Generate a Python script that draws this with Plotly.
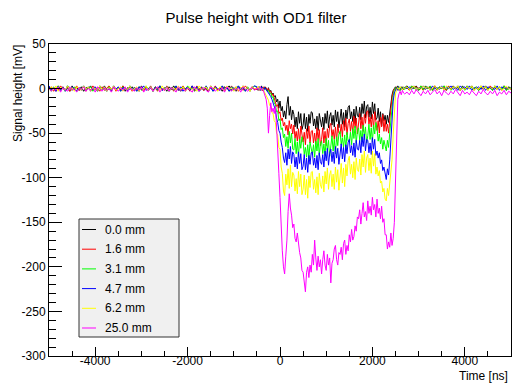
import numpy as np
import plotly.graph_objects as go

# Sampling times: 50 ns on the baselines, 25 ns across the pulse
time_ns = np.concatenate([
    np.arange(-5000, -525, 50),
    np.arange(-500, 2701, 25),
    np.arange(2750, 5001, 50),
])

labels = ["0.0 mm", "1.6 mm", "3.1 mm", "4.7 mm", "6.2 mm", "25.0 mm"]
colors = ["#000000", "#ff0000", "#00ff00", "#0000ff", "#ffff00", "#ff00ff"]

# Signal heights in mV: pre-pulse baseline | pulse | post-pulse baseline
mv_0p0 = [
    2, -2, 1, -3, 3, -1, 2, -2, 0, -3, 3, -1, 1, -2, 2, -3, 1, 0, 3, -2,
    1, -3, 2, -1, 3, -2, 0, -3, 2, -1, 1, -2, 3, -3, 1, -1, 2, -2, 0, -3,
    3, -1, 2, -2, 1, -3, 2, 0, 3, -2, 1, -3, 2, -1, 3, -2, 0, -3, 1, -1,
    2, -2, 3, -3, 1, -1, 2, -2, 0, -3, 3, -1, 2, -2, 1, -3, 2, 0, 3, -2,
    1, -3, 2, -1, 3, -2, 0, -3, 2, -1,
    1, -2, 2, -1, 3, -2, 0, 2,
    0, -3, 1, -4, -2, -7, -5, -9,
    -8, -15, -12, -22, -14, -25, -20, -32,
    -25, -34, -18, -9, -30, -20, -35, -24,
    -29, -43, -32, -45, -26, -39, -28, -46,
    -41, -28, -45, -32, -48, -29, -39, -26,
    -27, -42, -34, -45, -31, -47, -28, -38,
    -43, -32, -46, -28, -39, -25, -44, -31,
    -27, -41, -30, -43, -24, -37, -26, -44,
    -36, -23, -40, -27, -43, -24, -34, -21,
    -19, -34, -26, -37, -23, -39, -20, -30,
    -32, -21, -35, -17, -28, -14, -33, -20,
    -18, -32, -21, -34, -15, -28, -17, -35,
    -33, -22, -37, -26, -42, -28, -36, -30,
    -40, -30, -38, -26, -12, -7, -2, 1,
    2, -1, 3, 0, -2, 2, 1, -1,
    1,
    3, -1, 2, 0, 3, -2, 1, -1, 3, 0, 2, -2, 3, -1, 1, 0, 3, -2, 2, -1,
    3, 0, 1, -2, 3, -1, 2, 0, 3, -1, 2, -2, 1, 0, 3, -1, 2, -2, 3, 0,
    1, -1, 3, -2, 2, 0,
]
mv_1p6 = [
    -1, 2, -3, 1, -2, 3, 0, -2, 2, -3, 1, -1, 3, -2, 0, 2, -3, 1, -2, 3,
    -1, 1, -3, 2, -2, 0, 3, -1, 2, -3, 1, -2, 3, 0, -1, 2, -3, 1, -2, 2,
    0, -3, 2, -1, 3, -2, 1, -3, 2, 0, -2, 3, -1, 1, -3, 2, -2, 0, 3, -1,
    1, -3, 2, -2, 3, -1, 0, -2, 2, -3, 1, -1, 3, -2, 0, 2, -3, 1, -2, 3,
    -1, 2, -3, 1, -2, 3, 0, -2, 2, -1,
    -1, 2, -2, 1, 0, -2, 2, -1,
    1, -2, 0, -4, -3, -8, -6, -12,
    -14, -20, -18, -28, -26, -36, -33, -42,
    -38, -47, -41, -52, -36, -45, -40, -51,
    -41, -56, -48, -59, -45, -61, -42, -52,
    -60, -49, -63, -45, -56, -42, -61, -48,
    -47, -61, -50, -63, -44, -57, -46, -64,
    -57, -44, -61, -48, -64, -45, -55, -42,
    -39, -54, -46, -57, -43, -59, -40, -50,
    -51, -40, -54, -36, -47, -33, -52, -39,
    -34, -48, -37, -50, -31, -44, -33, -51,
    -41, -28, -45, -32, -48, -29, -39, -26,
    -25, -40, -32, -43, -29, -45, -26, -36,
    -47, -36, -50, -32, -43, -29, -48, -35,
    -48, -40, -50, -36, -20, -10, -4, 0,
    -1, 2, 0, -2, 1, -1, 2, 0,
    1,
    1, -2, 3, 0, 2, -1, 3, -2, 1, 0, 2, -1, 3, -2, 2, 0, 1, -2, 3, -1,
    2, 0, 3, -2, 1, -1, 3, 0, 2, -2, 1, 0, 3, -1, 2, -2, 3, 0, 1, -1,
    2, -2, 3, 0, 1, -1,
]
mv_3p1 = [
    0, -3, 2, -1, 3, -2, 1, -3, 3, 0, -2, 2, -3, 1, -1, 3, -2, 0, 2, -3,
    1, -2, 3, -1, 0, -3, 2, -2, 3, -1, 1, -3, 2, 0, -2, 3, -1, 1, -3, 2,
    -2, 0, 3, -1, 2, -3, 1, -2, 3, 0, -1, 2, -3, 1, -2, 3, -1, 0, 2, -3,
    3, -1, 1, -2, 2, -3, 0, -1, 3, -2, 2, -3, 1, 0, -2, 3, -1, 1, -3, 2,
    0, -2, 3, -1, 1, -3, 2, -2, 0, 3,
    1, -1, 2, -2, 0, 1, -2, 1,
    -1, -3, -2, -6, -5, -10, -9, -16,
    -18, -26, -25, -36, -34, -46, -44, -55,
    -51, -65, -54, -67, -48, -61, -50, -68,
    -69, -56, -73, -60, -76, -57, -67, -54,
    -59, -74, -66, -77, -63, -79, -60, -70,
    -74, -63, -77, -59, -70, -56, -75, -62,
    -59, -73, -62, -75, -56, -69, -58, -76,
    -66, -53, -70, -57, -73, -54, -64, -51,
    -48, -63, -55, -66, -52, -68, -49, -59,
    -60, -49, -63, -45, -56, -42, -61, -48,
    -44, -58, -47, -60, -41, -54, -43, -61,
    -53, -40, -57, -44, -60, -41, -51, -38,
    -44, -59, -51, -62, -55, -68, -58, -66,
    -70, -58, -66, -50, -34, -18, -8, -2,
    1, -1, 2, 0, -2, 1, 0, 2,
    -1,
    2, -1, 3, 0, 1, -2, 3, -1, 2, 0, 3, -2, 1, -1, 2, 0, 3, -1, 2, -2,
    1, 0, 3, -1, 2, -2, 3, 0, 1, -1, 2, -2, 3, 0, 2, -1, 1, -2, 3, 0,
    2, -1, 3, -2, 1, 0,
]
mv_4p7 = [
    3, -1, 0, -3, 2, -2, 1, -3, 3, -1, 2, 0, -3, 1, -2, 3, -1, 2, -3, 0,
    2, -2, 3, -1, 1, -3, 0, -2, 3, -1, 2, -3, 1, 0, -2, 3, -1, 1, -3, 2,
    -1, 3, -2, 0, 2, -3, 1, -1, 3, -2, 0, 2, -3, 1, -1, 3, -2, 2, -3, 0,
    1, -2, 3, -1, 2, -3, 0, -1, 3, -2, 1, -3, 2, 0, -2, 3, -1, 1, -3, 2,
    -2, 0, 3, -1, 2, -3, 1, -2, 0, 3,
    2, -1, 1, -2, 2, 0, -1, 1,
    -1, -2, -4, -6, -9, -12, -16, -20,
    -24, -33, -38, -47, -50, -60, -66, -78,
    -83, -72, -86, -68, -79, -65, -84, -71,
    -74, -88, -77, -90, -71, -84, -73, -91,
    -87, -74, -91, -78, -94, -75, -85, -72,
    -71, -86, -78, -89, -75, -91, -72, -82,
    -85, -74, -88, -70, -81, -67, -86, -73,
    -68, -82, -71, -84, -65, -78, -67, -85,
    -75, -62, -79, -66, -82, -63, -73, -60,
    -57, -72, -64, -75, -61, -77, -58, -68,
    -69, -58, -72, -54, -65, -51, -70, -57,
    -58, -72, -61, -74, -55, -68, -57, -75,
    -70, -78, -72, -84, -80, -92, -88, -98,
    -102, -90, -97, -80, -58, -32, -14, -5,
    -1, 1, -2, 2, 0, -1, 1, 0,
    1,
    0, 2, -1, 3, -2, 1, 0, 3, -1, 2, -2, 3, 0, 1, -1, 3, -2, 2, 0, 3,
    -1, 1, -2, 3, 0, 2, -1, 3, -2, 1, 0, 2, -1, 3, -2, 2, 0, 1, -1, 3,
    -2, 2, 0, 1, -1, 2,
]
mv_6p2 = [
    -2, 2, -1, 3, -3, 1, 0, -2, 3, -1, 1, -3, 2, 0, -2, 3, -1, 2, -3, 1,
    0, -2, 3, -1, 2, -3, 1, -1, 3, -2, 0, 2, -3, 1, -1, 3, -2, 0, 2, -3,
    1, -1, 3, -2, 2, -3, 0, 1, -2, 3, -1, 2, -3, 0, 1, -2, 3, -1, 2, -3,
    0, 2, -2, 1, -3, 3, -1, 0, 2, -2, 3, -1, 1, -3, 2, 0, -2, 3, -1, 1,
    -3, 2, -2, 0, 3, -1, 1, -3, 2, 0,
    0, 2, -1, 1, -2, 0, -3, -5,
    -7, -12, -13, -19, -20, -27, -28, -36,
    -38, -50, -52, -66, -68, -88, -95, -115,
    -120, -96, -108, -90, -112, -86, -110, -94,
    -97, -115, -101, -118, -93, -110, -96, -119,
    -113, -97, -119, -102, -123, -98, -111, -94,
    -93, -113, -102, -117, -99, -119, -95, -108,
    -112, -98, -116, -93, -107, -89, -113, -97,
    -92, -110, -96, -113, -88, -105, -91, -114,
    -100, -84, -106, -89, -110, -85, -98, -81,
    -76, -96, -85, -100, -82, -102, -78, -91,
    -93, -79, -97, -74, -88, -70, -94, -78,
    -74, -92, -78, -95, -70, -87, -73, -96,
    -88, -98, -92, -106, -104, -116, -112, -124,
    -126, -112, -120, -104, -98, -80, -52, -24,
    -6, -1, 1, -1, 2, 0, -2, 1,
    0,
    2, -1, 0, 3, -2, 1, -1, 3, 0, 2, -2, 1, 3, -1, 0, 2, -2, 3, 1, -1,
    2, 0, 3, -2, 1, -1, 2, 0, 3, -2, 1, -1, 3, 0, 2, -2, 1, 0, 3, -1,
    2, -2, 0, 3, -1, 1,
]
mv_25p0 = [
    0, -3, 1, -2, 2, -4, 1, -1, -3, 2, -2, 0, -4, 1, -1, 2, -3, 0, -2, 1,
    -4, 2, -1, -3, 1, -2, 0, -4, 2, -1, -3, 1, -2, 2, -4, 0, -1, -3, 1, -2,
    2, -4, 0, -2, 1, -3, -1, 2, -4, 0, -2, 1, -3, 1, -1, -4, 2, -2, 0, -3,
    1, -2, -4, 2, -1, -3, 0, 1, -2, -4, 2, -1, -3, 0, -2, 1, -4, 2, -1, -3,
    0, -2, 1, -4, 2, -1, -3, 0, 1, -2,
    1, -1, 0, 2, -2, 0, -4, -7,
    -12, -22, -50, -30, -16, -26, -22, -28,
    -20, -42, -62, -95, -122, -165, -182, -200,
    -208, -188, -170, -138, -118, -134, -142, -156,
    -152, -168, -172, -162, -176, -184, -190, -204,
    -206, -222, -228, -206, -200, -212, -198, -206,
    -186, -198, -170, -190, -204, -188, -200, -192,
    -208, -192, -182, -198, -204, -186, -198, -190,
    -218, -196, -192, -180, -176, -192, -198, -184,
    -186, -178, -192, -174, -170, -186, -176, -182,
    -164, -172, -158, -170, -166, -154, -160, -144,
    -146, -136, -152, -140, -128, -144, -138, -148,
    -126, -140, -132, -142, -122, -136, -130, -144,
    -124, -140, -134, -146, -132, -150, -146, -164,
    -164, -180, -172, -178, -162, -176, -168, -150,
    -100, -50, -12, -6, -3, -7, -2, -5,
    -6,
    -4, -7, -2, -6, -1, -5, -8, -3, -6, -2, -7, -4, -1, -6, -3, -8, -2, -5, -7, -3,
    -6, -1, -5, -8, -2, -6, -4, -7, -2, -5, -8, -3, -6, -1, -5, -7, -3, -6, -2, -8,
    -4, -6, -2, -7, -3, -5,
]
series = [mv_0p0, mv_1p6, mv_3p1, mv_4p7, mv_6p2, mv_25p0]

y_tickvals = [50, 0, -50, -100, -150, -200, -250, -300]
y_ticktext = ["50", "0", "-50", "-100", "-150", "-200", "-250", "-300"]
x_tickvals = [-4000, -2000, 0, 2000, 4000]
x_ticktext = ["-4000", "-2000", "0", "2000", "4000"]

FONT = "Liberation Sans, Arial, Helvetica, sans-serif"
W, H = 512, 387
ML, MR, MT, MB = 49, 1, 44, 31
PW, PH = W - ML - MR, H - MT - MB


def px_x(px):
    """Pixel column -> paper x."""
    return (px - ML) / PW


def px_y(py):
    """Pixel row -> paper y."""
    return (H - MB - py) / PH


fig = go.Figure()
for name, color, values in zip(labels, colors, series):
    assert len(values) == len(time_ns), (name, len(values), len(time_ns))
    fig.add_trace(go.Scatter(
        x=time_ns, y=values, mode="lines", name=name, showlegend=False,
        line=dict(color=color, width=1),
    ))

# Legend: framed grey panel with short line keys
LEG_L, LEG_R, LEG_T, LEG_B = 79, 179, 219, 337
ROW0, ROW_STEP = 229.5, 19.7
shapes = [dict(type="rect", xref="paper", yref="paper",
               x0=px_x(LEG_L), x1=px_x(LEG_R), y0=px_y(LEG_B), y1=px_y(LEG_T),
               fillcolor="#f0f0f0", line=dict(color="#333333", width=1), layer="above")]
annotations = []
for i, (name, color) in enumerate(zip(labels, colors)):
    row = ROW0 + i * ROW_STEP
    shapes.append(dict(type="line", xref="paper", yref="paper",
                       x0=px_x(82), x1=px_x(96), y0=px_y(row), y1=px_y(row),
                       line=dict(color=color, width=1), layer="above"))
    annotations.append(dict(text=name, xref="paper", yref="paper",
                            x=px_x(103), xanchor="left", y=px_y(row), yanchor="middle",
                            showarrow=False, font=dict(size=12, color="black")))

annotations.append(dict(text="Signal height [mV]", textangle=-90, xref="paper", yref="paper",
                        x=px_x(17.5), xanchor="center", y=px_y(43), yanchor="top",
                        showarrow=False, font=dict(size=12, color="black")))
annotations.append(dict(text="Time [ns]", xref="paper", yref="paper",
                        x=px_x(510), xanchor="right", y=px_y(376), yanchor="middle",
                        showarrow=False, font=dict(size=12, color="black")))

fig.update_layout(
    width=W, height=H,
    margin=dict(l=ML, r=MR, t=MT, b=MB),
    paper_bgcolor="white", plot_bgcolor="white",
    font=dict(family=FONT, size=12, color="black"),
    title=dict(text="Pulse height with OD1 filter", x=0.5, xanchor="center",
               y=0.953, yanchor="middle", font=dict(size=15, color="black")),
    showlegend=False,
    shapes=shapes,
    annotations=annotations,
)
fig.update_xaxes(
    range=[-5000, 5000], showgrid=False, zeroline=False,
    showline=True, linecolor="black", linewidth=1, mirror=True,
    ticks="inside", ticklen=9, tickcolor="black", ticklabelstandoff=-6,
    tickvals=x_tickvals, ticktext=x_ticktext,
    minor=dict(ticks="inside", ticklen=5, dtick=500, tick0=0, tickcolor="black", showgrid=False),
)
fig.update_yaxes(
    range=[-300, 50], showgrid=False, zeroline=False,
    showline=True, linecolor="black", linewidth=1, mirror=True,
    ticks="inside", ticklen=13, tickcolor="black",
    tickvals=y_tickvals, ticktext=y_ticktext,
    minor=dict(ticks="inside", ticklen=7, dtick=10, tick0=0, tickcolor="black", showgrid=False),
)

fig.write_html("out.html")
